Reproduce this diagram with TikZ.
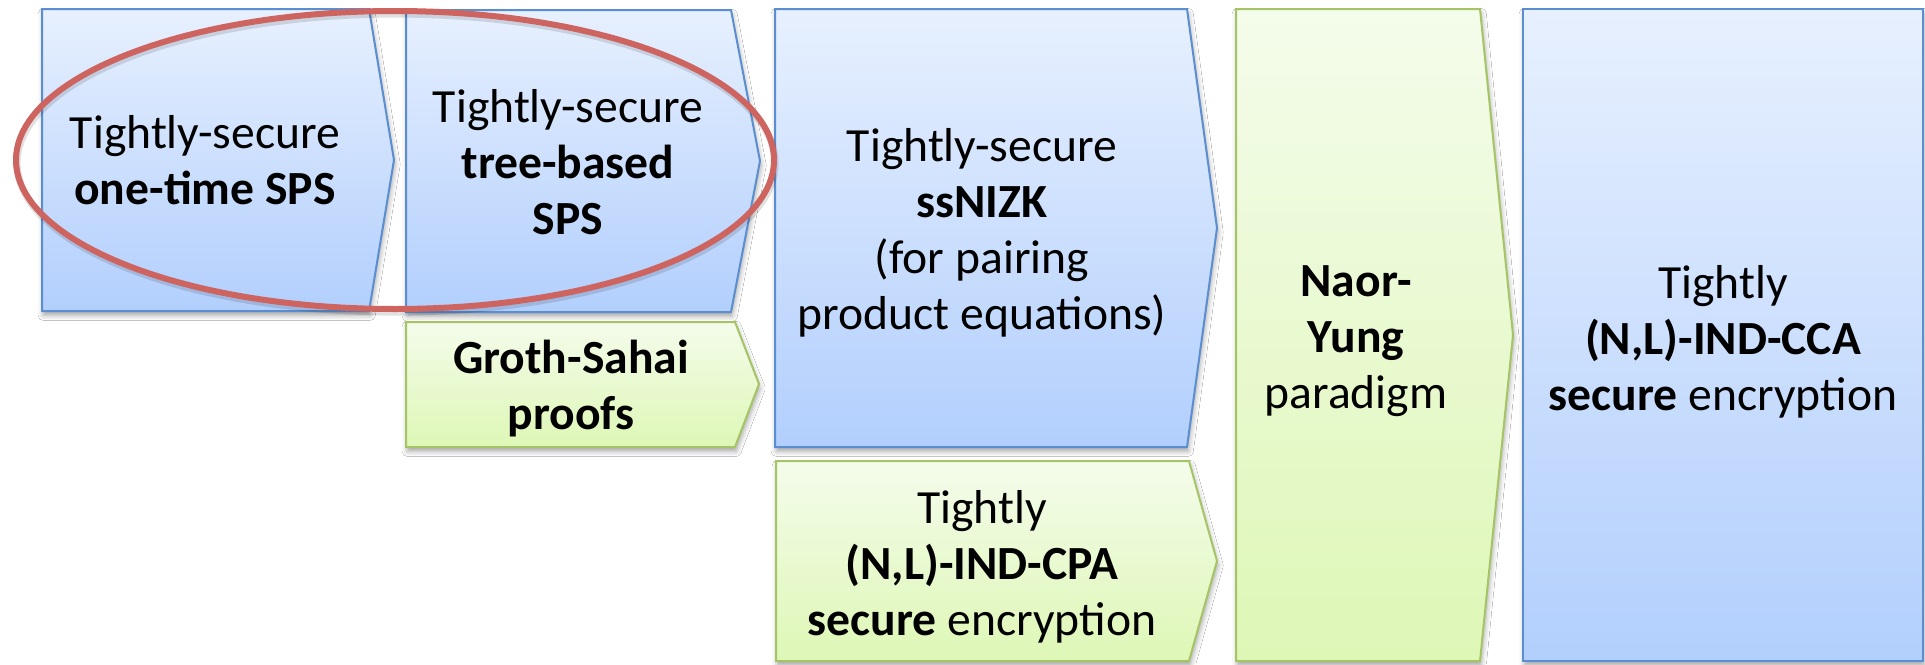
\documentclass[tikz,border=0pt]{standalone}
\usepackage{fontspec}
\setmainfont{Carlito}
\usetikzlibrary{shadows.blur}

\definecolor{bluetop}{HTML}{E7F0FE}
\definecolor{bluebot}{HTML}{B2CFFD}
\definecolor{blueline}{HTML}{5A8ED0}
\definecolor{greentop}{HTML}{F4FCEB}
\definecolor{greenbot}{HTML}{DEF7B6}
\definecolor{greenline}{HTML}{A4C465}
\definecolor{ringred}{HTML}{CD645F}

% home-plate arrow: left, top, bottom, shoulder x, tip x, tip y
\newcommand\homeplate[6]{(#1,#2) -- (#4,#2) -- (#5,#6) -- (#4,#3) -- (#1,#3) -- cycle}

\tikzset{
  stage/.style={blur shadow={shadow xshift=0.6pt, shadow yshift=-2.2pt,
      shadow blur radius=2.5pt, shadow opacity=35},
    line width=1pt, line join=miter},
  bluestage/.style={stage, top color=bluetop, bottom color=bluebot, draw=blueline},
  greenstage/.style={stage, top color=greentop, bottom color=greenbot, draw=greenline},
  stagetext/.style={align=center, inner sep=0pt,
    font=\fontsize{23.8pt}{28pt}\selectfont},
  ring/.style={draw=ringred, line width=3pt},
  ringshade/.style={draw=black, line width=3.6pt, opacity=0.12},
}

\begin{document}
\begin{tikzpicture}[x=0.5pt, y=-0.5pt]
  \useasboundingbox (0,0) rectangle (1925,664);
  \fill[white] (0,0) rectangle (1925,664);

  % stages of the construction
  \path[bluestage]  \homeplate{42}{9}{311}{369}{394}{160};
  \path[bluestage]  \homeplate{406}{10}{312}{731}{760}{161};
  \path[greenstage] \homeplate{406}{322}{447}{735}{759}{384};
  \path[bluestage]  \homeplate{775}{9}{447}{1187}{1217}{228};
  \path[greenstage] \homeplate{776}{461}{661}{1189}{1217}{561};
  \path[greenstage] \homeplate{1236}{9}{661}{1480}{1513}{335};
  \path[bluestage]  (1523,9) rectangle (1923,661);

  % labels
  \node[stagetext] (onetime) at (205,160) {Tightly-secure\\\textbf{one-time SPS}};
  \node[stagetext] (tree) at (568,162) {Tightly-secure\\\textbf{tree-based}\\\textbf{SPS}};
  \node[stagetext] (gs) at (571,389) {\textbf{Groth-Sahai}\\\textbf{proofs}};
  \node[stagetext] (nizk) at (982,233) {Tightly-secure\\\textbf{ssNIZK}\\(for pairing\\product equations)};
  \node[stagetext] (cpa) at (982,567) {Tightly\\\textbf{(N,L)-IND-CPA}\\\textbf{secure} encryption};
  \node[stagetext] (ny) at (1356,341) {\textbf{Naor-}\\\textbf{Yung}\\paradigm};
  \node[stagetext] (cca) at (1723,342) {Tightly\\\textbf{(N,L)-IND-CCA}\\\textbf{secure} encryption};

  % highlight around the two signature stages
  \draw[ringshade] (396,163) ellipse [x radius=189.5pt, y radius=74.5pt];
  \draw[ring] (395,160) ellipse [x radius=189.5pt, y radius=74.5pt];
\end{tikzpicture}
\end{document}
